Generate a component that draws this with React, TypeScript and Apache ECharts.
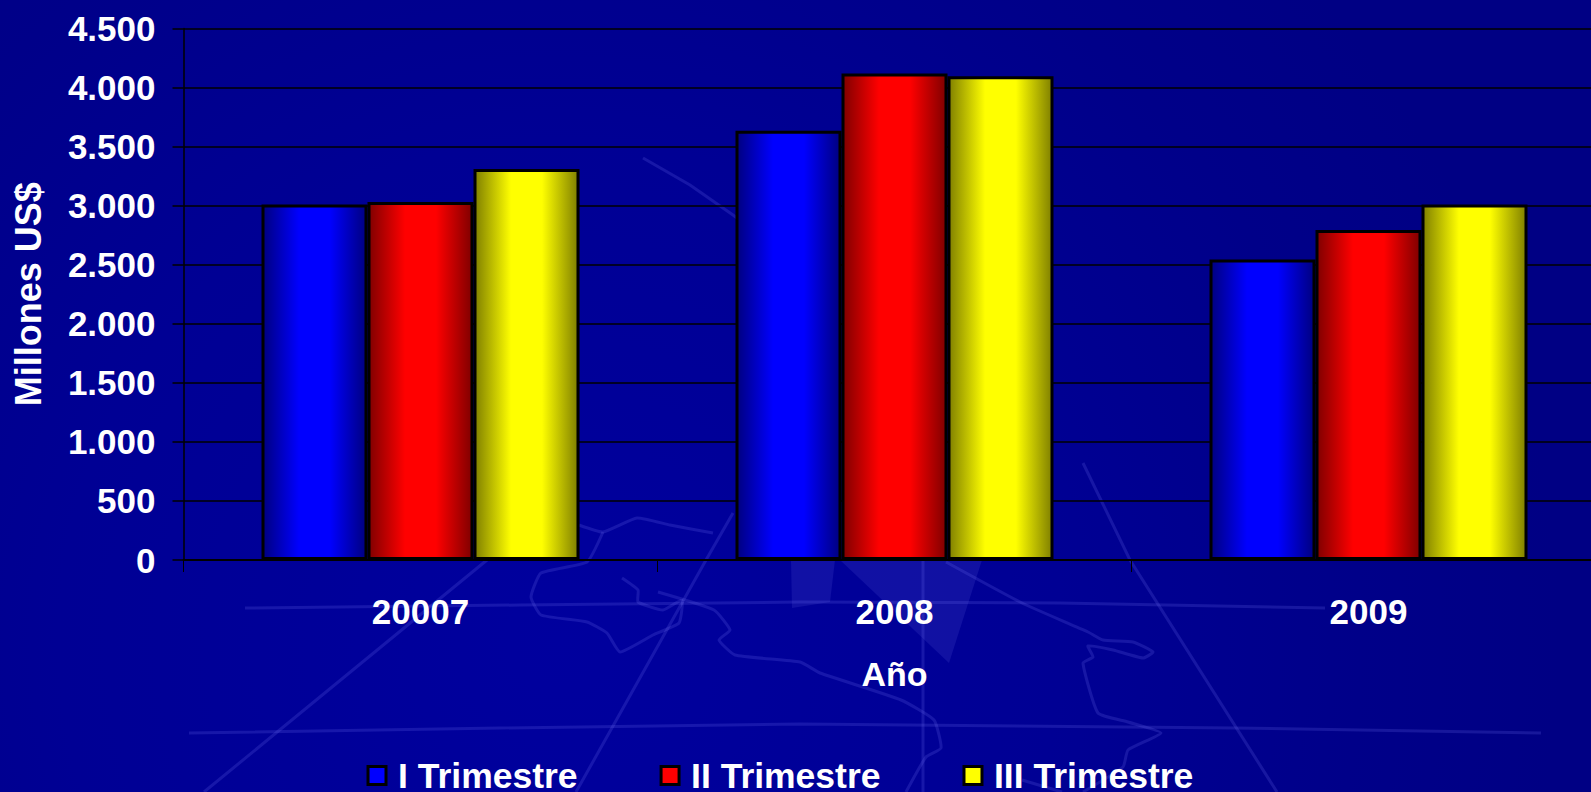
import React, { useEffect, useRef } from "react";
import * as echarts from "echarts";

const categories = ["20007", "2008", "2009"];
const trimestre1 = [3010, 3635, 2545];
const trimestre2 = [3030, 4120, 2795];
const trimestre3 = [3310, 4095, 3010];
const seriesNames = ["I Trimestre", "II Trimestre", "III Trimestre"];
const FONT = "'Liberation Sans', Arial, sans-serif";

// Faint decorative backdrop (map of the isthmus and meridians)
const LINE = "rgba(125,125,255,0.18)";
const decoLines: number[][][] = [
  [[245, 608], [520, 605], [800, 602], [1060, 603], [1325, 608]],
  [[189, 733], [500, 728], [800, 724], [1234, 728], [1541, 733]],
  [[204, 792], [487, 560], [505, 545]],
  [[576, 792], [706, 560], [733, 513]],
  [[1083, 463], [1130, 560], [1277, 792]],
  [[643, 158], [690, 185], [733, 215], [780, 250]],
  [[923, 560], [923, 792]],
];
const decoMap: number[][][] = [
  [[579, 525], [603, 532], [637, 518], [670, 525], [713, 533]],
  [[603, 532], [587, 562], [541, 573], [531, 597], [541, 615], [587, 622], [607, 633], [620, 652], [653, 635], [679, 623], [682, 600], [663, 610], [638, 602], [638, 590], [622, 578]],
  [[658, 592], [714, 610], [730, 630], [719, 640], [735, 655], [800, 662], [820, 673], [901, 700], [934, 720], [941, 748], [926, 757], [906, 792]],
  [[946, 562], [1022, 603], [1088, 632], [1103, 640], [1133, 642], [1153, 652], [1143, 658], [1113, 650], [1088, 646], [1093, 657], [1083, 663], [1098, 713], [1128, 722], [1161, 733], [1128, 750], [1123, 767], [1083, 792]],
  [[1022, 780], [1062, 792]],
];
const decoWedges: number[][][] = [
  [[791, 560], [835, 560], [830, 602], [792, 608]],
  [[840, 560], [982, 560], [949, 663]],
];

function barFill(edge: string, core: string) {
  return {
    type: "linear", x: 0, y: 0, x2: 1, y2: 0,
    colorStops: [
      { offset: 0, color: edge },
      { offset: 0.35, color: core },
      { offset: 0.65, color: core },
      { offset: 1, color: edge },
    ],
  };
}

export default function App() {
  const ref = useRef<HTMLDivElement>(null);
  useEffect(() => {
    document.body.style.margin = "0";
    const chart = echarts.init(ref.current!, undefined, { renderer: "svg" });
    const graphic: any[] = [
      ...decoWedges.map((points) => ({ type: "polygon", silent: true, z: -1, shape: { points }, style: { fill: "rgba(140,140,255,0.12)" } })),
      ...decoLines.map((points) => ({ type: "polyline", silent: true, z: -1, shape: { points }, style: { stroke: LINE, lineWidth: 3, fill: "none" } })),
      ...decoMap.map((points) => ({ type: "polyline", silent: true, z: -1, shape: { points, smooth: 0.15 }, style: { stroke: LINE, lineWidth: 3, fill: "none" } })),
    ];
    const mkBar = (name: string, data: number[], edge: string, core: string) => ({
      type: "bar",
      name,
      data,
      barWidth: 106,
      barGap: "0%",
      itemStyle: { color: barFill(edge, core), borderColor: "#000", borderWidth: 3 },
    });
    chart.setOption({
      animation: false,
      backgroundColor: {
        type: "radial", x: 560, y: 640, r: 1000, global: true,
        colorStops: [
          { offset: 0, color: "#00009E" },
          { offset: 0.5, color: "#000094" },
          { offset: 0.8, color: "#000089" },
          { offset: 1, color: "#000084" },
        ],
      },
      graphic,
      grid: { left: 183.5, top: 28.5, width: 1422, height: 531.5, outerBoundsMode: "none" },
      legend: {
        left: 361.5, top: 750, itemWidth: 18, itemHeight: 18, itemGap: 82,
        icon: "rect",
        data: [
          { name: seriesNames[0], itemStyle: { color: "#0000FF", borderColor: "#000", borderWidth: 3 } },
          { name: seriesNames[1], itemStyle: { color: "#FF0000", borderColor: "#000", borderWidth: 3 } },
          { name: seriesNames[2], itemStyle: { color: "#FFFF00", borderColor: "#000", borderWidth: 3 } },
        ],
        textStyle: { color: "#fff", fontFamily: FONT, fontWeight: "bold", fontSize: 35.5, lineHeight: 30, padding: [0, 0, 11, 7] },
      },
      xAxis: {
        type: "category",
        data: categories,
        name: "Año",
        nameLocation: "middle",
        nameGap: 97,
        nameTextStyle: { color: "#fff", fontFamily: FONT, fontWeight: "bold", fontSize: 34 },
        axisLine: { lineStyle: { color: "#000", width: 2 } },
        axisTick: { show: true, length: 12, lineStyle: { color: "#000", width: 1 } },
        axisLabel: { color: "#fff", fontFamily: FONT, fontWeight: "bold", fontSize: 35, margin: 34 },
      },
      yAxis: {
        type: "value",
        min: 0,
        max: 4500,
        interval: 500,
        name: "Millones US$",
        nameLocation: "middle",
        nameGap: 137,
        nameRotate: 90,
        nameTextStyle: { color: "#fff", fontFamily: FONT, fontWeight: "bold", fontSize: 36 },
        axisLine: { show: true, lineStyle: { color: "#000", width: 1.5 } },
        axisTick: { show: true, length: 11, lineStyle: { color: "#000", width: 1.5 } },
        axisLabel: {
          color: "#fff", fontFamily: FONT, fontWeight: "bold", fontSize: 35, margin: 28,
          formatter: (v: number) => (v >= 1000 ? `${Math.floor(v / 1000)}.${String(v % 1000).padStart(3, "0")}` : String(v)),
        },
        splitLine: { show: true, lineStyle: { color: "#000", width: 1.5 } },
      },
      series: [
        mkBar(seriesNames[0], trimestre1, "#000080", "#0000FF"),
        mkBar(seriesNames[1], trimestre2, "#800000", "#FF0000"),
        mkBar(seriesNames[2], trimestre3, "#808000", "#FFFF00"),
      ],
    });
    return () => chart.dispose();
  }, []);
  return <div ref={ref} style={{ position: "absolute", left: 0, top: 0, width: 1591, height: 792 }} />;
}
